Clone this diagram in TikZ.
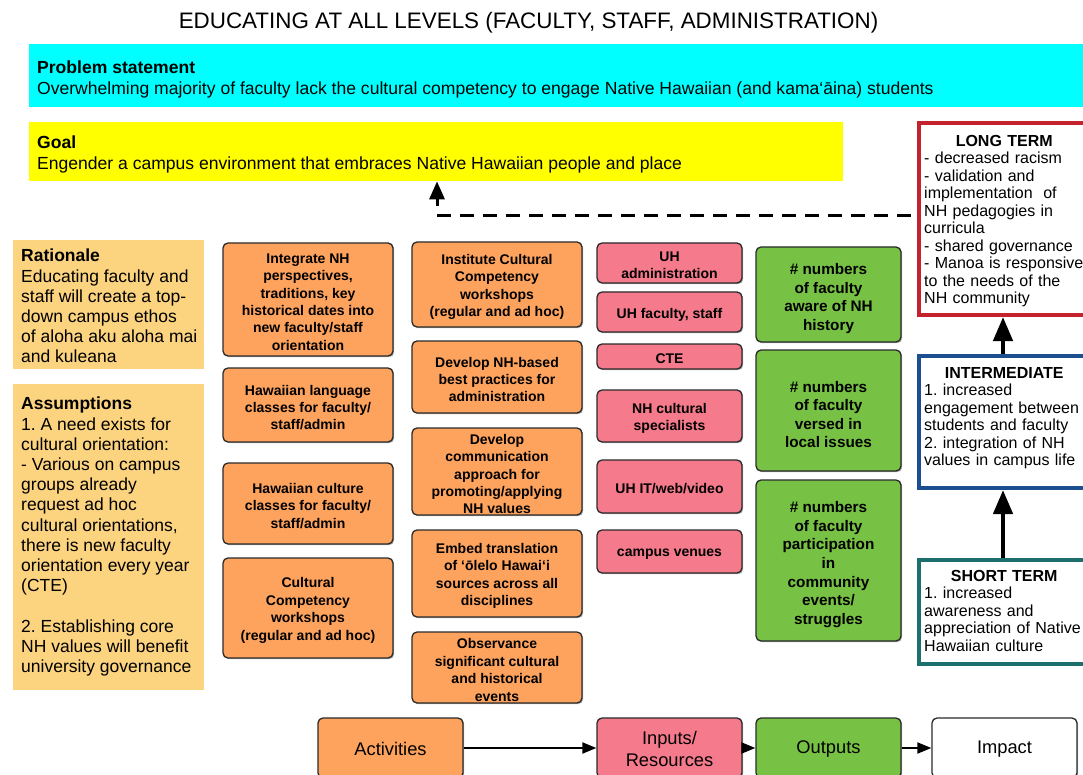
\documentclass[tikz,border=0pt]{standalone}
\usepackage{fontspec}
\setmainfont{Liberation Sans}
\usetikzlibrary{arrows.meta,shadows}
\definecolor{cyanbg}{HTML}{00FFFF}
\definecolor{yellowbg}{HTML}{FFFF00}
\definecolor{ratbg}{HTML}{FCD37E}
\definecolor{actfill}{HTML}{FEA35E}
\definecolor{resfill}{HTML}{F57A8B}
\definecolor{outfill}{HTML}{77C244}
\definecolor{boxline}{HTML}{2A2A2A}
\definecolor{ltred}{HTML}{C4222C}
\definecolor{intblue}{HTML}{1C4F8F}
\definecolor{stteal}{HTML}{1D6F6E}
% #1 box style, #2 text style, #3 name, #4-#7 corners (x1,y1,x2,y2), #8 text
\newcommand\placebox[8]{%
  \node[#1, minimum width={(#6)-(#4)}, minimum height={(#7)-(#5)}] (#3) at ({((#4)+(#6))/2},{((#5)+(#7))/2}) {};
  \node[#2] (#3-t) at (#3.center) {#8};}
\begin{document}
\frenchspacing
\begin{tikzpicture}[x=1pt,y=-1pt,
  rbox/.style={draw=boxline, line width=1.3pt, rounded corners=5pt, inner sep=0pt,
    drop shadow={shadow xshift=1.2pt, shadow yshift=-1.2pt, opacity=0.3, fill=black}},
  actbox/.style={rbox, fill=actfill},
  resbox/.style={rbox, fill=resfill},
  outbox/.style={rbox, fill=outfill},
  btext/.style={inner sep=0pt, align=center},
  acttext/.style={btext, yshift=-2.5pt, font=\fontsize{14}{17.4}\selectfont\bfseries},
  restext/.style={btext, yshift=-2.5pt, font=\fontsize{14}{17.5}\selectfont\bfseries},
  outtext/.style={btext, yshift=-4pt, font=\fontsize{15.3}{18.6}\selectfont\bfseries},
  keytext/.style={btext, yshift=-1pt, font=\fontsize{18.3}{22}\selectfont},
  bannerbox/.style={anchor=north west, inner sep=0pt},
  bannertext/.style={anchor=north west, inner sep=0pt, align=left, font=\fontsize{17.55}{20.5}\selectfont},
  sidebox/.style={anchor=north west, fill=ratbg, inner sep=0pt, minimum width=191pt},
  sidetext/.style={anchor=north west, inner sep=0pt, align=left, font=\fontsize{17.5}{20.2}\selectfont},
  termbox/.style={anchor=north west, fill=white, line width=4pt, inner sep=0pt, minimum width=200pt},
  termtext/.style={anchor=north west, inner sep=0pt, text width=160pt, align=left, font=\fontsize{16}{17.5}\selectfont},
  bigarrow/.style={line width=4.5pt, -{Triangle[width=19pt,length=24pt]}},
  flowarrow/.style={line width=2pt, -{Triangle[width=11pt,length=14pt]}},
  goalarrow/.style={line width=3pt, -{Triangle[width=15pt,length=18pt]}},
  dashline/.style={line width=3pt, dash pattern=on 14pt off 9pt}
]
\useasboundingbox (0,0) rectangle (1083,775);
\fill[white] (0,0) rectangle (1083,775);

% title
\node[font=\fontsize{22.4}{26}\selectfont] (title) at (528.5,23) {EDUCATING AT ALL LEVELS (FACULTY, STAFF, ADMINISTRATION)};

% problem statement and goal
\node[bannerbox, fill=cyanbg, minimum width=1070pt, minimum height=63pt] (prob) at (29,44) {};
\node[bannertext] (prob-t) at (37,61)
  {\textbf{Problem statement}\\Overwhelming majority of faculty lack the cultural competency to engage Native Hawaiian (and kama‘āina) students};
\node[bannerbox, fill=yellowbg, minimum width=814pt, minimum height=59pt] (goal) at (29,122) {};
\node[bannertext] (goal-t) at (37,136)
  {\textbf{Goal}\\Engender a campus environment that embraces Native Hawaiian people and place};

% rationale and assumptions
\node[sidebox, minimum height=129pt] (rat) at (13,240) {};
\node[sidetext] (rat-t) at (21,249)
  {\textbf{Rationale}\\Educating faculty and\\staff will create a top-\\down campus ethos\\of aloha aku aloha mai\\and kuleana};
\node[sidebox, minimum height=306pt] (ass) at (13,384) {};
\node[sidetext] (ass-t) at (21,397)
  {\textbf{Assumptions}\\1. A need exists for\\cultural orientation:\\- Various on campus\\groups already\\request ad hoc\\cultural orientations,\\there is new faculty\\orientation every year\\(CTE)\\[20.2pt]2. Establishing core\\NH values will benefit\\university governance};

% activities column 1
\placebox{actbox}{acttext}{a1}{223}{243}{393}{356}{Integrate NH\\perspectives,\\traditions, key\\historical dates into\\new faculty/staff\\orientation}
\placebox{actbox}{acttext}{a2}{223}{368}{393}{442}{Hawaiian language\\classes for faculty/\\staff/admin}
\placebox{actbox}{acttext}{a3}{223}{463}{393}{544}{Hawaiian culture\\classes for faculty/\\staff/admin}
\placebox{actbox}{acttext}{a4}{223}{558}{393}{658}{Cultural\\Competency\\workshops\\(regular and ad hoc)}

% activities column 2
\placebox{actbox}{acttext}{b1}{412}{242}{582}{327}{Institute Cultural\\Competency\\workshops\\(regular and ad hoc)}
\placebox{actbox}{acttext}{b2}{412}{341}{582}{413}{Develop NH-based\\best practices for\\administration}
\placebox{actbox}{acttext}{b3}{412}{428}{582}{515}{Develop\\communication\\approach for\\promoting/applying\\NH values}
\placebox{actbox}{acttext}{b4}{412}{530}{582}{617}{Embed translation\\of ‘ōlelo Hawai‘i\\sources across all\\disciplines}
\placebox{actbox}{acttext}{b5}{412}{632}{582}{703}{Observance\\significant cultural\\and historical\\events}

% resources
\placebox{resbox}{restext}{r1}{597}{243}{742}{283}{UH\\administration}
\placebox{resbox}{restext}{r2}{597}{292}{742}{332}{UH faculty, staff}
\placebox{resbox}{restext}{r3}{597}{344}{742}{369}{CTE}
\placebox{resbox}{restext}{r4}{597}{390}{742}{442}{NH cultural\\specialists}
\placebox{resbox}{restext}{r5}{597}{460}{742}{513}{UH IT/web/video}
\placebox{resbox}{restext}{r6}{597}{530}{742}{573}{campus venues}

% outputs
\placebox{outbox}{outtext}{g1}{756}{247}{901}{342}{\# numbers\\of faculty\\aware of NH\\history}
\placebox{outbox}{outtext}{g2}{756}{350}{901}{471}{\# numbers\\of faculty\\versed in\\local issues}
\placebox{outbox}{outtext}{g3}{756}{480}{901}{641}{\# numbers\\of faculty\\participation\\in\\community\\events/\\struggles}

% impact terms
\node[termbox, draw=ltred, minimum height=192pt] (lt) at (917,121) {};
\node[termtext] (lt-t) at (924,135)
  {\makebox[\linewidth]{\bfseries LONG TERM}\\- decreased racism\\- validation and\\implementation~ of\\NH pedagogies in\\curricula\\- shared governance\\- Manoa is responsive\\to the needs of the\\NH community};
\node[termbox, draw=intblue, minimum height=132pt] (int) at (917,354) {};
\node[termtext] (int-t) at (924,367)
  {\makebox[\linewidth]{\bfseries INTERMEDIATE}\\1. increased\\engagement between\\students and faculty\\2. integration of NH\\values in campus life};
\node[termbox, draw=stteal, minimum height=104pt] (st) at (917,558) {};
\node[termtext] (st-t) at (924,570)
  {\makebox[\linewidth]{\bfseries SHORT TERM}\\1. increased\\awareness and\\appreciation of Native\\Hawaiian culture};

\coordinate (ax) at (1003,0);
\draw[bigarrow] (int.north -| ax) -- (lt.south -| ax);
\draw[bigarrow] (st.north -| ax) -- (int.south -| ax);

% feedback to goal
\coordinate (dc) at (437,216);
\draw[dashline] (dc) -- (lt.west |- dc);
\draw[goalarrow] ([yshift=10pt]dc) -- (goal.south -| dc);

% legend row
\placebox{actbox}{keytext}{kact}{318}{718}{463}{778}{Activities}
\placebox{resbox}{keytext}{kres}{597}{718}{742}{778}{Inputs/\\Resources}
\placebox{outbox}{keytext}{kout}{756}{718}{901}{778}{Outputs}
\placebox{rbox, fill=white}{keytext}{kimp}{932}{718}{1077}{778}{Impact}
\draw[flowarrow] (kact) -- (kres);
\draw[flowarrow] (kres) -- (kout);
\draw[flowarrow] (kout) -- (kimp);
\end{tikzpicture}
\end{document}
